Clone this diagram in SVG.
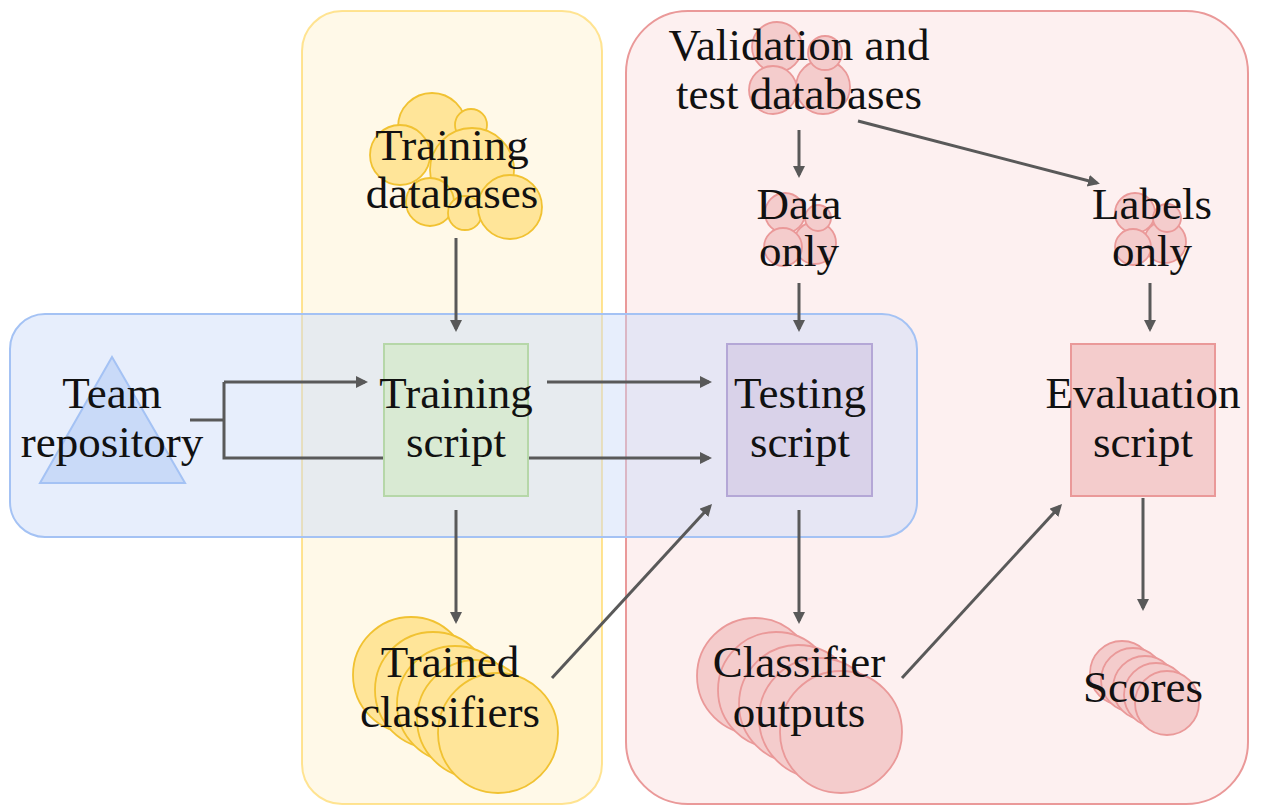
<svg xmlns="http://www.w3.org/2000/svg" width="1261" height="806" viewBox="0 0 1261 806">
<defs>
<style>
.lbl{font-size:45px;fill:#111;text-anchor:middle}
.ycirc{fill:#ffe599;stroke:#f1c232;stroke-width:1.8}
.pcirc{fill:#f4cccc;stroke:#ea9999;stroke-width:1.8}
.conn{fill:none;stroke:#595959;stroke-width:3}
</style>
<marker id="ah" markerUnits="userSpaceOnUse" markerWidth="14" markerHeight="14" refX="9" refY="6" orient="auto">
<path d="M0,0 L12,6 L0,12 z" fill="#595959"/>
</marker>
</defs>
<rect width="1261" height="806" fill="#ffffff"/>
<g id="region-training">
<rect x="302" y="11" width="300" height="793" rx="40" fill="#fff2cc" fill-opacity="0.45" stroke="#ffd966" stroke-opacity="0.7" stroke-width="2"/>
</g>
<g id="region-evaluation">
<rect x="626" y="11" width="622" height="793" rx="62" fill="#f8cecc" fill-opacity="0.3" stroke="#ea9999" stroke-width="2"/>
</g>
<g id="region-team">
<rect x="10" y="314" width="907" height="223" rx="35" fill="#c9daf8" fill-opacity="0.45" stroke="#a4c2f4" stroke-width="2"/>
</g>
<g id="connectors">
<path class="conn" d="M456,238 V329" marker-end="url(#ah)"/>
<path class="conn" d="M190,420 H224"/>
<path class="conn" d="M224,382 V458 H384"/>
<path class="conn" d="M224,382 H365" marker-end="url(#ah)"/>
<path class="conn" d="M547,382 H709" marker-end="url(#ah)"/>
<path class="conn" d="M528,458 H709" marker-end="url(#ah)"/>
<path class="conn" d="M456,510 V621" marker-end="url(#ah)"/>
<path class="conn" d="M552,678 L710,506.2" marker-end="url(#ah)"/>
<path class="conn" d="M799,130 V175" marker-end="url(#ah)"/>
<path class="conn" d="M858,121 L1097,183" marker-end="url(#ah)"/>
<path class="conn" d="M799,283 V329" marker-end="url(#ah)"/>
<path class="conn" d="M1150,283 V329" marker-end="url(#ah)"/>
<path class="conn" d="M799,510 V621" marker-end="url(#ah)"/>
<path class="conn" d="M902,678 L1060,506.2" marker-end="url(#ah)"/>
<path class="conn" d="M1143,498 V608" marker-end="url(#ah)"/>
</g>
<g font-family="'Liberation Serif', 'DejaVu Serif', 'Times New Roman', serif">
<g id="node-training-databases">
<circle class="ycirc" cx="432" cy="127" r="34"/>
<circle class="ycirc" cx="471" cy="125" r="16"/>
<circle class="ycirc" cx="400" cy="155" r="30"/>
<circle class="ycirc" cx="472" cy="170" r="42"/>
<circle class="ycirc" cx="430" cy="202" r="24"/>
<circle class="ycirc" cx="465" cy="213" r="17"/>
<circle class="ycirc" cx="510" cy="207" r="32"/>
<text class="lbl" x="452" y="160">Training</text>
<text class="lbl" x="452" y="208">databases</text>
</g>
<g id="node-validation-databases">
<circle class="pcirc" cx="777" cy="47" r="25"/>
<circle class="pcirc" cx="823" cy="87" r="27"/>
<circle class="pcirc" cx="825" cy="53" r="17"/>
<circle class="pcirc" cx="773" cy="90" r="24"/>
<text class="lbl" x="799" y="60">Validation and</text>
<text class="lbl" x="799" y="109">test databases</text>
</g>
<g id="node-data-only">
<circle class="pcirc" cx="785" cy="213" r="20"/>
<circle class="pcirc" cx="815" cy="243" r="21"/>
<circle class="pcirc" cx="818" cy="218" r="13"/>
<circle class="pcirc" cx="783" cy="247" r="19"/>
<text class="lbl" x="799" y="219">Data</text>
<text class="lbl" x="799" y="266">only</text>
</g>
<g id="node-labels-only">
<circle class="pcirc" cx="1135" cy="213" r="20"/>
<circle class="pcirc" cx="1165" cy="242" r="21"/>
<circle class="pcirc" cx="1167" cy="218" r="14"/>
<circle class="pcirc" cx="1133" cy="247" r="18"/>
<text class="lbl" x="1152" y="219">Labels</text>
<text class="lbl" x="1152" y="266">only</text>
</g>
<g id="node-team-repository">
<polygon points="112,357 40,483 185,483" fill="#c9daf8" stroke="#a4c2f4" stroke-width="2"/>
<text class="lbl" x="112" y="408">Team</text>
<text class="lbl" x="112" y="457">repository</text>
</g>
<g id="node-training-script">
<rect x="384" y="344" width="144" height="152" fill="#d9ead3" stroke="#b6d7a8" stroke-width="2"/>
<text class="lbl" x="456" y="408">Training</text>
<text class="lbl" x="456" y="457">script</text>
</g>
<g id="node-testing-script">
<rect x="727" y="344" width="145" height="152" fill="#d9d2e9" stroke="#b4a7d6" stroke-width="2"/>
<text class="lbl" x="800" y="408">Testing</text>
<text class="lbl" x="800" y="457">script</text>
</g>
<g id="node-evaluation-script">
<rect x="1071" y="344" width="144" height="152" fill="#f4cccc" stroke="#ea9999" stroke-width="2"/>
<text class="lbl" x="1143" y="408">Evaluation</text>
<text class="lbl" x="1143" y="457">script</text>
</g>
<g id="node-trained-classifiers">
<circle class="ycirc" cx="411" cy="675" r="58"/>
<circle class="ycirc" cx="433" cy="690" r="58"/>
<circle class="ycirc" cx="455" cy="704" r="58"/>
<circle class="ycirc" cx="476" cy="719" r="59"/>
<circle class="ycirc" cx="498" cy="733" r="60"/>
<text class="lbl" x="450" y="677">Trained</text>
<text class="lbl" x="450" y="727">classifiers</text>
</g>
<g id="node-classifier-outputs">
<circle class="pcirc" cx="755" cy="676" r="58"/>
<circle class="pcirc" cx="776" cy="690" r="58"/>
<circle class="pcirc" cx="798" cy="704" r="59"/>
<circle class="pcirc" cx="819" cy="718" r="60"/>
<circle class="pcirc" cx="841" cy="732" r="61"/>
<text class="lbl" x="799" y="677">Classifier</text>
<text class="lbl" x="799" y="727">outputs</text>
</g>
<g id="node-scores">
<circle class="pcirc" cx="1122" cy="673" r="32"/>
<circle class="pcirc" cx="1133" cy="680" r="32"/>
<circle class="pcirc" cx="1145" cy="688" r="32"/>
<circle class="pcirc" cx="1156" cy="695" r="32"/>
<circle class="pcirc" cx="1167" cy="703" r="32"/>
<text class="lbl" x="1143" y="702">Scores</text>
</g>
</g>
</svg>
